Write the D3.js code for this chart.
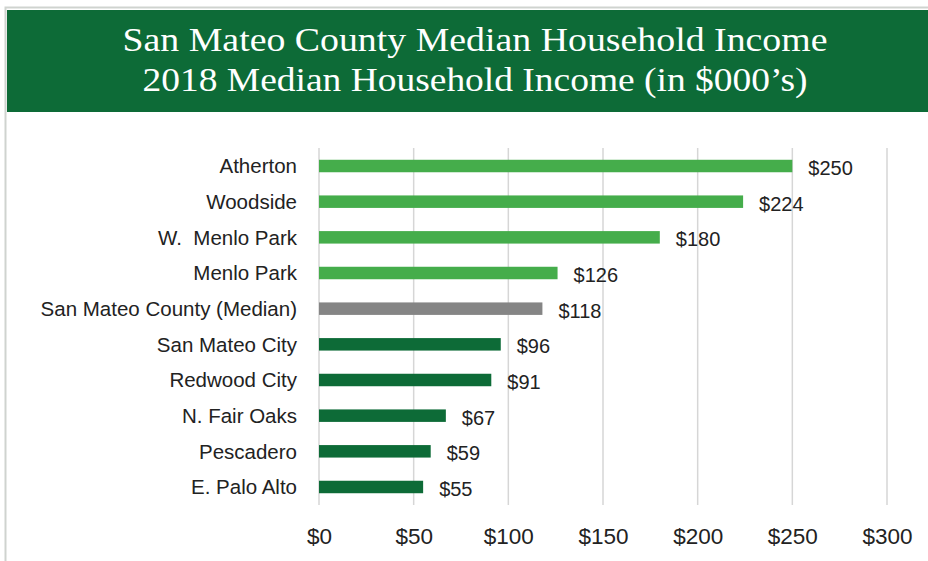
<!DOCTYPE html>
<html>
<head>
<meta charset="utf-8">
<script src="https://cdn.jsdelivr.net/npm/d3@7"></script>
<style>
  body { margin: 0; background: #fff; }
  svg { display: block; }
</style>
</head>
<body>
<div id="chart"></div>
<script>
const W = 928, H = 561

const titleLines = ["San Mateo County Median Household Income", "2018 Median Household Income (in $000\u2019s)"]
const places = ["Atherton", "Woodside", "W.  Menlo Park", "Menlo Park", "San Mateo County (Median)",
    "San Mateo City", "Redwood City", "N. Fair Oaks", "Pescadero", "E. Palo Alto"]
const incomes = [250, 224, 180, 126, 118, 96, 91, 67, 59, 55]
const groups = ["high", "high", "high", "high", "median", "low", "low", "low", "low", "low"]
const xTicks = [0, 50, 100, 150, 200, 250, 300]

const groupColor = { high: "#45ad4b", median: "#858585", low: "#0d6b37" }
const sans = "'Liberation Sans', Arial, sans-serif"

let svg = d3.select("#chart").append("svg").attr("width", W).attr("height", H)

// frame + header
svg.append("rect").attr("x", 5.5).attr("y", 7.5).attr("width", W).attr("height", H)
    .attr("fill", "#fff").attr("stroke", "#cfd3cf").attr("stroke-width", 2)
svg.append("rect").attr("x", 7).attr("y", 10).attr("width", W - 7).attr("height", 102)
    .attr("fill", "#0d6b37")
const titleWidths = [705, 665]
svg.selectAll("text.title").data(titleLines).enter()
    .append("text").attr("class", "title")
    .attr("x", 475).attr("y", (d, i) => 51 + i * 40)
    .attr("text-anchor", "middle")
    .attr("textLength", (d, i) => titleWidths[i])
    .attr("lengthAdjust", "spacingAndGlyphs")
    .style("font-family", "'Liberation Serif', 'DejaVu Serif', serif")
    .style("font-size", "34px")
    .attr("fill", "#fff")
    .text(d => d)

const margin = { left: 319, top: 148 }
let x = d3.scaleLinear().domain([0, 300]).range([0, 568])
let y = d3.scaleBand().domain(places).range([0, 357]).paddingInner(0.65).paddingOuter(0.33)

let g = svg.append("g").attr("transform", "translate(" + margin.left + "," + margin.top + ")")

// grid lines
g.selectAll("line.grid").data(xTicks).enter()
    .append("line").attr("class", "grid")
    .attr("x1", d => x(d)).attr("x2", d => x(d))
    .attr("y1", 0).attr("y2", 357)
    .style("stroke", "#d6d6d6").style("stroke-width", 1.5)

// x axis labels
let xAxis = d3.axisBottom(x).tickValues(xTicks).tickSize(0).tickPadding(0).tickFormat(d => "$" + d)
let xg = g.append("g").attr("transform", "translate(0,357)").call(xAxis)
xg.select(".domain").remove()
xg.selectAll("text").attr("dy", null).attr("y", 39)
    .style("font-family", sans).style("font-size", "22.5px").attr("fill", "#222")

// category labels
let yAxis = d3.axisLeft(y).tickSize(0).tickPadding(22)
let yg = g.append("g").call(yAxis)
yg.select(".domain").remove()
yg.selectAll("text").attr("dy", "0.35em")
    .style("white-space", "pre")
    .style("font-family", sans).style("font-size", "20.5px").attr("fill", "#222")

// bars
g.selectAll("rect.bar").data(incomes).enter()
    .append("rect").attr("class", "bar")
    .attr("x", 0)
    .attr("y", (d, i) => y(places[i]))
    .attr("width", d => x(d))
    .attr("height", y.bandwidth())
    .attr("fill", (d, i) => groupColor[groups[i]])

// value labels
g.selectAll("text.val").data(incomes).enter()
    .append("text").attr("class", "val")
    .attr("x", d => x(d) + 16)
    .attr("y", (d, i) => y(places[i]) + y.bandwidth() / 2 + 2)
    .attr("dy", "0.35em")
    .style("font-family", sans).style("font-size", "20px").attr("fill", "#222")
    .text(d => "$" + d)
</script>
</body>
</html>
